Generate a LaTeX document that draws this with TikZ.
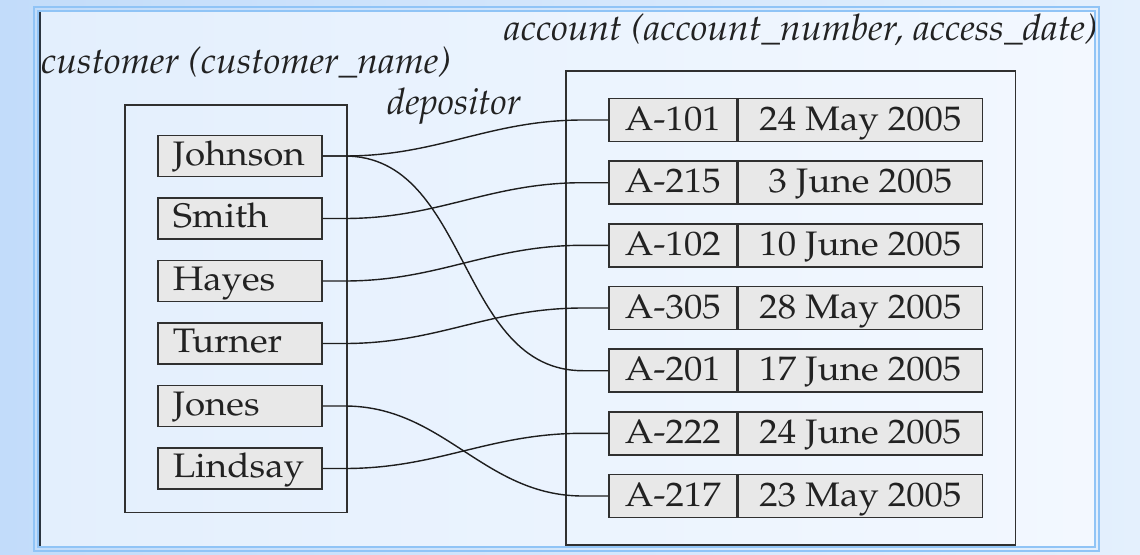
\documentclass[tikz,border=0pt]{standalone}
\usepackage[T1]{fontenc}
\usepackage{mathpazo}
\usepackage{graphicx}
\usetikzlibrary{calc}
\definecolor{bgL}{HTML}{C2DCFA}
\definecolor{bgR}{HTML}{E4F0FD}
\definecolor{panL}{HTML}{E3EFFD}
\definecolor{panR}{HTML}{F3F8FF}
\definecolor{frameC}{HTML}{90C4F6}
\definecolor{edgeC}{HTML}{2B3540}
\definecolor{boxfill}{HTML}{E8E8E8}
\definecolor{boxline}{HTML}{303030}
\definecolor{txt}{HTML}{222222}
\definecolor{lineC}{HTML}{1E1E1E}
\newcommand{\boxfont}{\fontsize{34}{40}\selectfont}
\newcommand{\labfont}{\fontsize{36.5}{42}\selectfont\itshape}
\newcommand{\bx}[1]{\scalebox{1.08}[1]{#1}}
\newcommand{\lb}[1]{\scalebox{1.025}[1]{#1}}
\begin{document}
\begin{tikzpicture}[x=1pt,y=-1pt,
  cbox/.style={draw=boxline, fill=boxfill, line width=1.6pt, minimum width=164pt,
    minimum height=41pt, inner xsep=15pt, inner ysep=0pt, text width=134pt, align=left,
    text height=24pt, text depth=6pt, font=\boxfont, text=txt, anchor=west},
  acell/.style={draw=boxline, fill=boxfill, line width=1.6pt, minimum height=43pt,
    inner sep=0pt, text height=26pt, text depth=6pt, font=\boxfont, text=txt, anchor=west},
  anum/.style={acell, minimum width=128pt},
  adate/.style={acell, minimum width=244pt},
  container/.style={draw=boxline, line width=1.8pt},
  lab/.style={font=\labfont, text=txt, inner sep=0pt, anchor=base west},
  conn/.style={draw=lineC, line width=1.4pt}
]
\useasboundingbox (0,0) rectangle (1140,554);
% background
\shade[left color=bgL, right color=bgR] (0,0) rectangle (1140,554);
\shade[left color=panL, right color=panR] (37,10) rectangle (1095,547);
\draw[frameC, line width=2pt] (34,7) rectangle (1098.5,551);
\draw[frameC, line width=2pt] (37.5,10.5) rectangle (1095,546.5);
\draw[edgeC, line width=2.4pt] (40,12) -- (40,546);

% containers
\draw[container] (125,105) rectangle (347,512.5);
\draw[container] (566,71) rectangle (1015.5,545);

% labels
\node[lab] (lcust) at (41,73) {\lb{customer (customer\_name)}};
\node[lab] (ldep) at (387,114) {depositor};
\begin{scope}
\clip (37,10) rectangle (1094,547);
\node[lab] (lacc) at (504,40) {\lb{account (account\_number, access\_date)}};
\end{scope}

% customers
\node[cbox] (johnson) at (157,156) {\bx{Johnson}};
\node[cbox] (smith) at (157,218.5) {\bx{Smith}};
\node[cbox] (hayes) at (157,281) {\bx{Hayes}};
\node[cbox] (turner) at (157,343.5) {\bx{Turner}};
\node[cbox] (jones) at (157,406) {\bx{Jones}};
\node[cbox] (lindsay) at (157,468.5) {\bx{Lindsay}};

% accounts
\node[anum] (a101) at (608,120) {\bx{A-101}};
\node[adate] (d101) at (a101.east) {\bx{24 May 2005}};
\node[anum] (a215) at (608,182.7) {\bx{A-215}};
\node[adate] (d215) at (a215.east) {\bx{3 June 2005}};
\node[anum] (a102) at (608,245.3) {\bx{A-102}};
\node[adate] (d102) at (a102.east) {\bx{10 June 2005}};
\node[anum] (a305) at (608,308) {\bx{A-305}};
\node[adate] (d305) at (a305.east) {\bx{28 May 2005}};
\node[anum] (a201) at (608,370.7) {\bx{A-201}};
\node[adate] (d201) at (a201.east) {\bx{17 June 2005}};
\node[anum] (a222) at (608,433.3) {\bx{A-222}};
\node[adate] (d222) at (a222.east) {\bx{24 June 2005}};
\node[anum] (a217) at (608,496) {\bx{A-217}};
\node[adate] (d217) at (a217.east) {\bx{23 May 2005}};

% connectors
\foreach \c/\a in {johnson/a101, johnson/a201, smith/a215, hayes/a102, turner/a305, jones/a217, lindsay/a222}{
  \draw[conn] (\c.east) -- ++(22,0) to[out=0,in=180] ($(\a.west)+(-25,0)$) -- (\a.west);
}
\end{tikzpicture}
\end{document}
